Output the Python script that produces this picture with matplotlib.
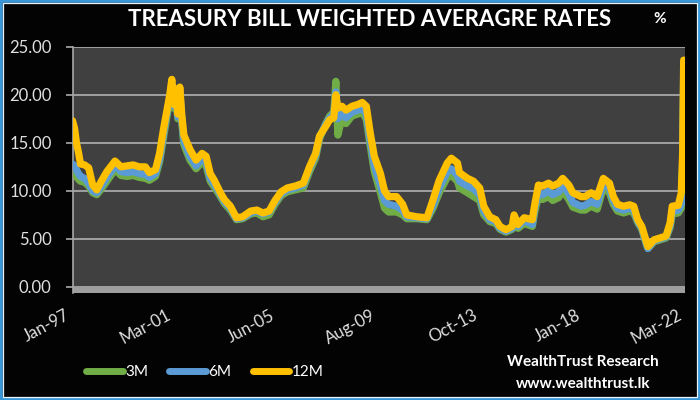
import matplotlib
matplotlib.use("Agg")
import matplotlib.pyplot as plt
from matplotlib.lines import Line2D
from matplotlib.patches import Rectangle
import pandas as pd

dates = ['1997-01','1997-02','1997-03','1997-04','1997-05','1997-07','1997-09','1997-11',
 '1998-01','1998-03','1998-06','1998-10','1999-01','1999-04','1999-07','1999-10',
 '2000-01','2000-03','2000-06','2000-08','2000-10','2000-12','2001-01','2001-02',
 '2001-03','2001-04','2001-05','2001-06','2001-07','2001-08','2001-11','2002-02',
 '2002-05','2002-07','2002-09','2002-11','2003-02','2003-04','2003-07','2003-10',
 '2004-01','2004-05','2004-08','2004-11','2005-02','2005-05','2005-08','2005-11',
 '2006-03','2006-07','2006-10','2007-01','2007-03','2007-06','2007-08','2007-10',
 '2007-11','2007-12','2008-02','2008-04','2008-07','2008-10','2008-12','2009-02',
 '2009-04','2009-06','2009-09','2009-11','2010-01','2010-05','2010-08','2010-10',
 '2011-03','2011-08','2011-11','2012-02','2012-06','2012-08','2012-11','2012-12',
 '2013-04','2013-07','2013-10','2013-12','2014-03','2014-06','2014-08','2014-11',
 '2015-02','2015-03','2015-05','2015-08','2015-12','2016-01','2016-03','2016-05',
 '2016-08','2016-10','2017-01','2017-03','2017-06','2017-08','2017-12','2018-02',
 '2018-05','2018-08','2018-11','2019-02','2019-04','2019-06','2019-09','2019-12',
 '2020-02','2020-04','2020-06','2020-08','2020-09','2020-12','2021-03','2021-06',
 '2021-08','2021-09','2021-12','2022-01-15','2022-02-05','2022-02-20']

r12 = [17.3,16.5,15.0,14.0,12.8,12.7,12.4,10.6,
 10.1,10.9,12.0,13.1,12.5,12.6,12.7,12.5,
 12.5,11.9,12.2,13.9,16.5,18.8,20.0,21.6,
 19.0,20.6,18.0,20.8,17.9,15.8,14.3,13.2,
 13.9,13.6,11.8,11.1,9.8,9.1,8.4,7.2,
 7.3,7.9,8.0,7.7,7.9,9.0,9.9,10.3,
 10.5,10.8,12.5,13.9,15.7,16.7,17.4,17.6,
 20.0,18.6,18.8,18.4,18.8,19.0,19.2,18.8,
 16.0,13.6,11.8,10.0,9.4,9.4,8.6,7.5,
 7.3,7.2,9.1,11.1,12.9,13.4,12.9,11.9,
 11.3,11.0,10.3,8.4,7.3,7.0,6.3,5.95,
 6.3,7.5,6.5,7.2,7.0,8.4,10.6,10.5,
 10.8,10.5,10.8,11.3,10.6,9.8,9.4,9.4,
 9.8,9.4,11.3,10.8,9.4,8.6,8.4,8.55,
 8.4,7.0,6.3,4.9,4.2,4.9,5.1,5.3,
 6.7,8.4,8.5,9.8,14.0,23.6]

r6 = [12.8,12.6,12.2,11.8,11.5,11.3,10.8,10.0,
 9.8,10.4,11.4,12.6,12.0,11.9,12.0,11.8,
 11.7,11.4,11.8,13.3,16.0,18.5,19.6,21.2,
 18.8,20.2,17.7,20.4,17.4,15.2,13.6,12.6,
 13.4,13.0,11.3,10.7,9.6,8.9,8.2,7.1,
 7.2,7.7,7.9,7.6,7.8,8.8,9.7,10.1,
 10.3,10.6,12.3,13.7,15.6,16.9,17.6,18.0,
 20.3,17.5,18.0,17.6,18.2,18.4,18.6,18.0,
 15.2,12.6,10.6,9.0,8.6,8.4,8.0,7.3,
 7.2,7.1,8.5,10.3,12.0,12.3,11.6,11.0,
 10.5,10.2,9.6,7.9,7.0,6.8,6.1,5.8,
 6.1,7.0,6.3,6.9,6.5,8.0,9.9,9.6,
 10.0,9.6,9.9,10.6,9.7,8.8,8.4,8.5,
 8.9,8.6,10.8,10.3,9.0,8.2,8.0,8.2,
 8.0,6.8,6.1,4.7,4.0,4.8,5.0,5.2,
 6.4,7.9,8.0,8.6,13.0,22.0]

r3 = [12.0,11.8,11.5,11.2,11.0,10.9,10.5,9.8,
 9.6,10.1,11.0,12.2,11.6,11.5,11.6,11.4,
 11.3,11.1,11.5,13.0,15.6,18.2,19.2,20.8,
 18.6,19.9,17.5,20.0,17.0,14.8,13.2,12.3,
 13.0,12.6,11.0,10.4,9.4,8.7,8.0,7.0,
 7.1,7.6,7.7,7.3,7.5,8.6,9.5,9.9,
 10.1,10.3,12.0,13.4,15.4,17.0,17.8,18.2,
 21.4,15.8,17.6,17.0,17.8,18.0,18.2,17.4,
 14.6,12.0,9.8,8.2,7.8,7.8,7.5,7.1,
 7.1,7.0,8.2,9.8,11.4,11.6,11.0,10.3,
 9.8,9.4,9.0,7.5,6.8,6.6,6.0,5.7,
 6.0,6.7,6.1,6.6,6.3,7.6,9.5,9.1,
 9.4,9.0,9.3,10.0,9.1,8.3,8.0,8.0,
 8.4,8.1,10.3,9.8,8.6,7.9,7.7,7.9,
 7.7,6.7,6.0,4.6,4.0,4.7,4.9,5.1,
 6.2,7.6,7.7,8.2,12.5,21.5]

series_names = ['3M', '6M', '12M']
series_colors = ['#70AD47', '#5B9BD5', '#FFC000']

tick_dates = ['1997-01', '2001-03', '2005-06', '2009-08', '2013-10', '2018-01', '2022-03']
tick_labels = ['Jan-97', 'Mar-01', 'Jun-05', 'Aug-09', 'Oct-13', 'Jan-18', 'Mar-22']
y_ticks = [0, 5, 10, 15, 20, 25]

FONT = ['Lato', 'DejaVu Sans']
plt.rcParams['font.family'] = FONT

x = pd.to_datetime(dates, format='mixed')

fig = plt.figure(figsize=(7, 4), dpi=100, facecolor='#030303')
ax = fig.add_axes([72.5/700, 1-293.2/400, (685-72.5)/700, (293.2-46.7)/400])
ax.set_facecolor('#404040')

for vals, name, col in zip([r3, r6, r12], series_names, series_colors):
    ax.plot(x, vals, color=col, lw=5.2, solid_joinstyle='round', solid_capstyle='round', label=name, zorder=3)

ax.axhspan(-0.65, 0, color='#9E9E9E', zorder=2, lw=0)
ax.set_ylim(-0.65, 25)
ax.set_xlim(pd.Timestamp('1997-01-01'), pd.Timestamp('2022-03-12'))
ax.set_yticks(y_ticks)
ax.set_yticklabels([f'{v:.2f}' for v in y_ticks])
ax.yaxis.grid(True, color='#A8A8A8', lw=1.3, zorder=1)
ax.set_axisbelow(True)
ax.set_xticks(pd.to_datetime(tick_dates, format='mixed'))
ax.set_xticklabels(tick_labels, rotation=28, ha='right')
for s in ['top', 'right', 'bottom']:
    ax.spines[s].set_visible(False)
ax.spines['left'].set_color('#A8A8A8')
ax.spines['left'].set_linewidth(1.2)
ax.tick_params(axis='y', colors='#A8A8A8', labelcolor='#E0E0E0', labelsize=12, length=5, width=1.2, pad=10)
ax.tick_params(axis='x', labelcolor='#E0E0E0', labelsize=12, length=0, pad=10)

fig.text(0.528, 1-20/400, 'TREASURY BILL WEIGHTED AVERAGRE RATES', ha='center', va='center',
         color='white', fontsize=16, fontweight='bold')
fig.text(660/700, 1-19/400, '%', ha='center', va='center', color='white', fontsize=11, fontweight='bold')

handles = [Line2D([0], [0], color=c, lw=5, solid_capstyle='round') for c in series_colors]
fig.legend(handles, series_names, loc='center left', bbox_to_anchor=(86/700, 1-372/400), ncol=3,
           frameon=False, fontsize=11, labelcolor='white', handlelength=2.4, handletextpad=0.15,
           columnspacing=1.4, borderpad=0, borderaxespad=0)

fig.text(583/700, 1-362/400, 'WealthTrust Research', ha='center', va='center', color='white',
         fontsize=11, fontweight='bold')
fig.text(583/700, 1-384/400, 'www.wealthtrust.lk', ha='center', va='center', color='white',
         fontsize=11, fontweight='bold')

fig.patches.append(Rectangle((0, 0), 1, 1, transform=fig.transFigure, fill=False,
                             edgecolor='#3A98D8', lw=4))
fig.patches.append(Rectangle((3.2/700, 3.2/400), 1-6.4/700, 1-6.4/400, transform=fig.transFigure,
                             fill=False, edgecolor='#EAF4FB', lw=0.9))

fig.savefig('out.png', dpi=100, facecolor=fig.get_facecolor())
